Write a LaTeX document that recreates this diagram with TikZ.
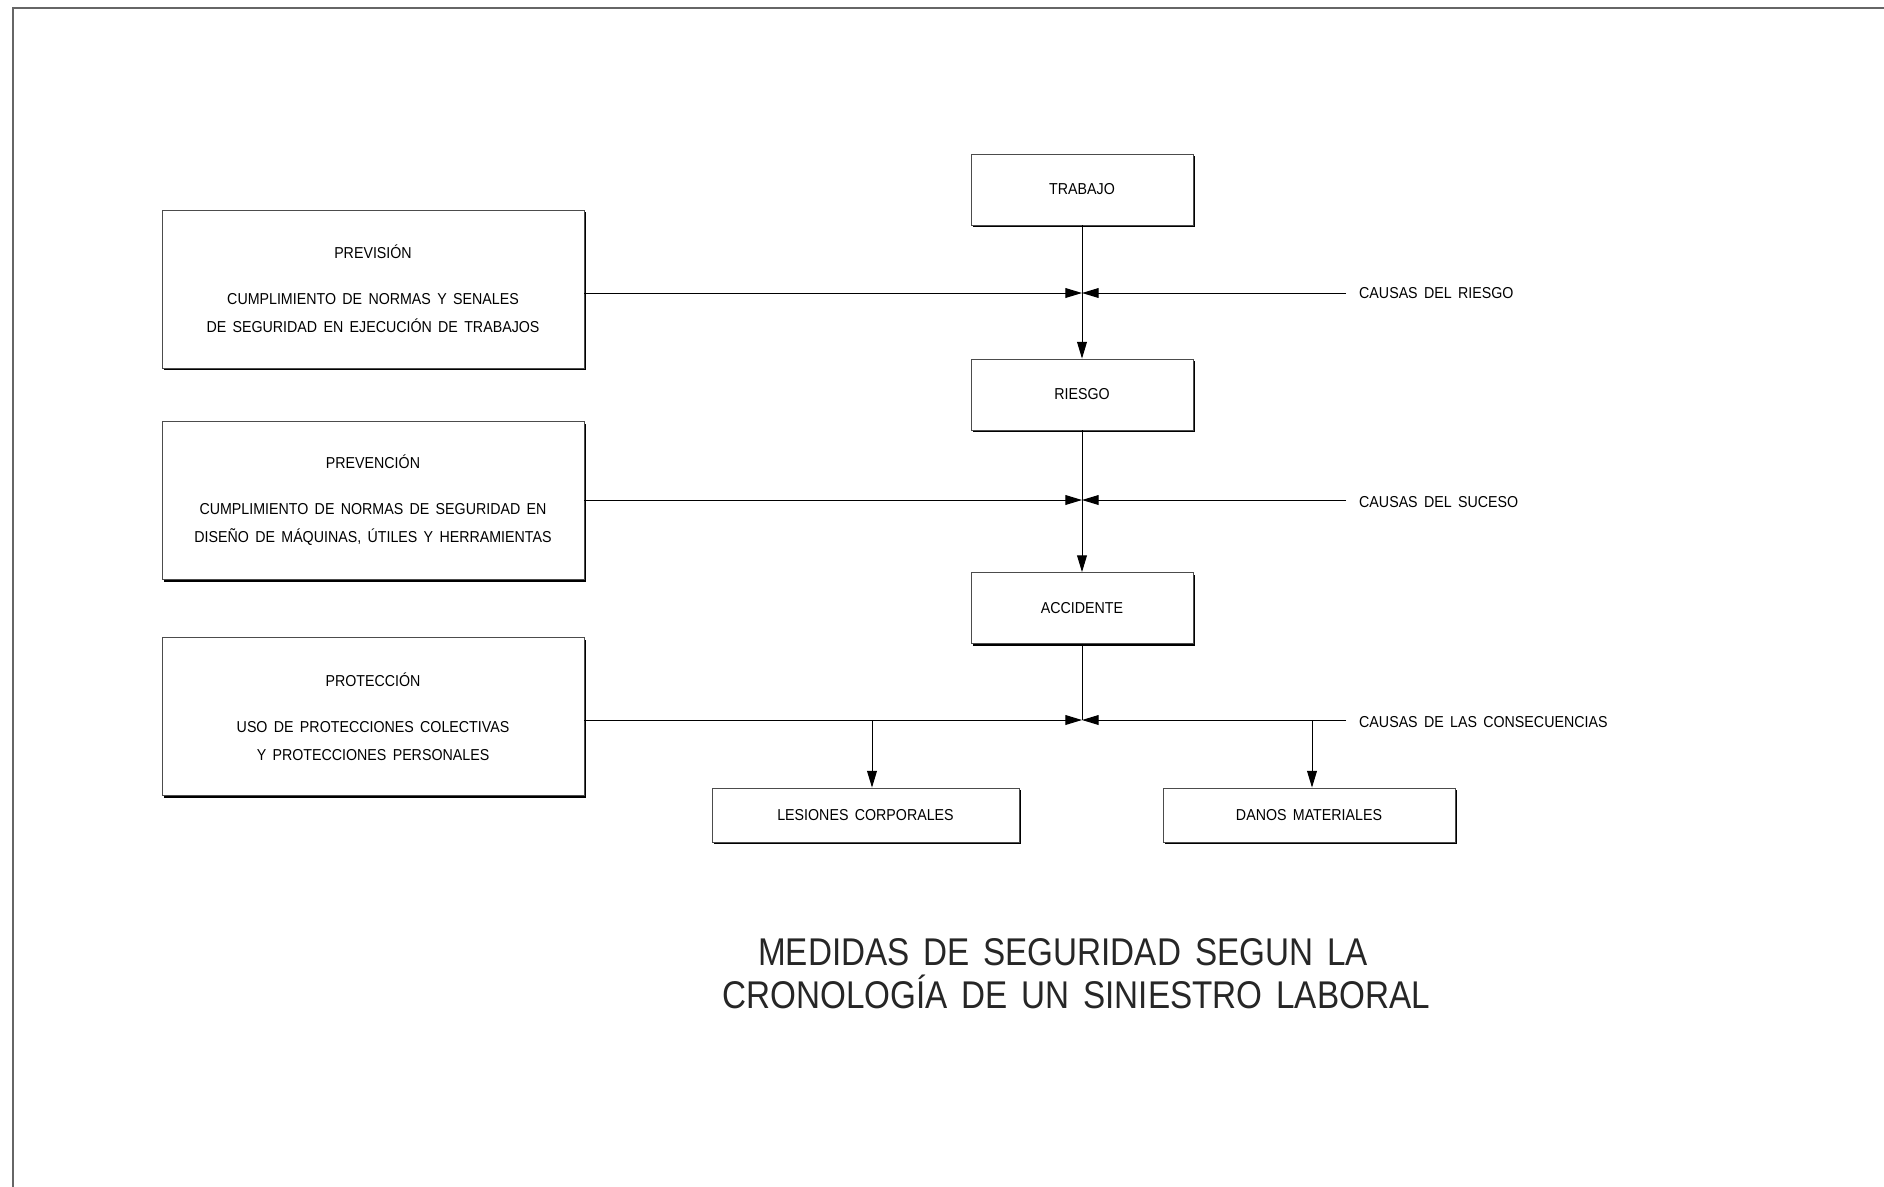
\documentclass[tikz,border=0pt]{standalone}
\usepackage{fontspec}
\setmainfont{Liberation Sans}
\newfontfamily\cadfont[FakeStretch=0.9, WordSpace=1.6]{Liberation Sans}
\newfontfamily\titlefont[FakeStretch=0.86, WordSpace=1.5]{Liberation Sans}
\usetikzlibrary{positioning, calc, arrows.meta, shadows}

\tikzset{
  box/.style={draw=black!70, fill=white, line width=0.5pt, inner sep=0pt,
    drop shadow={shadow xshift=1.3pt, shadow yshift=-1.3pt, opacity=1, fill=black},
    font=\cadfont\fontsize{9}{16}\selectfont, align=center},
  stepbox/.style={box, minimum width=4.44cm, minimum height=1.42cm},
  measurebox/.style={box, minimum width=8.44cm, minimum height=3.16cm},
  resultbox/.style={box, minimum height=1.08cm},
  causa/.style={anchor=west, font=\cadfont\fontsize{9}{11}\selectfont},
  heading/.style={text=black!85, font=\titlefont\fontsize{22}{26}\selectfont},
  link/.style={line width=0.55pt, -{Triangle[length=9.5pt, width=5.6pt]}},
  plain/.style={line width=0.55pt},
  frame/.style={draw=black!60, line width=1.2pt}
}

\begin{document}
\begin{tikzpicture}[x=0.02cm, y=-0.02cm]
  \useasboundingbox (0,0) rectangle (1884,1187);
  \draw[frame] (13,1187) -- (13,8) -- (1884,8);

  % chronology
  \node[stepbox] (trab) at (1082,189.5) {TRABAJO};
  \node[stepbox] (ries) at (1082,394.5) {RIESGO};
  \node[stepbox] (acci) at (1082,608) {ACCIDENTE};

  % measures
  \node[measurebox] (prev) at (373,289) {PREVISI\'ON\\[10pt]CUMPLIMIENTO DE NORMAS Y SENALES\\DE SEGURIDAD EN EJECUCI\'ON DE TRABAJOS};
  \node[measurebox] (pren) at (373,500.5) {PREVENCI\'ON\\[10pt]CUMPLIMIENTO DE NORMAS DE SEGURIDAD EN\\DISE\~NO DE M\'AQUINAS, \'UTILES Y HERRAMIENTAS};
  \node[measurebox] (prot) at (373,716.5) {PROTECCI\'ON\\[10pt]USO DE PROTECCIONES COLECTIVAS\\Y PROTECCIONES PERSONALES};

  % consequences
  \node[resultbox, minimum width=6.14cm] (lesi) at (865.5,815) {LESIONES CORPORALES};
  \node[resultbox, minimum width=5.84cm] (dano) at (1309,815) {DANOS MATERIALES};

  % junctions
  \coordinate (j1) at (1082,293);
  \coordinate (j2) at (1082,500);
  \coordinate (j3) at (1082,720);
  \coordinate (c1) at (1346,293);
  \coordinate (c2) at (1346,500);
  \coordinate (c3) at (1346,720);
  \coordinate (b1) at (872,720);
  \coordinate (b2) at (1312,720);

  \node[causa] (cr) at (1353,293) {CAUSAS DEL RIESGO};
  \node[causa] (cs) at (1353,502) {CAUSAS DEL SUCESO};
  \node[causa] (cc) at (1353,722) {CAUSAS DE LAS CONSECUENCIAS};

  \draw[link] (trab) -- (ries);
  \draw[link] (ries) -- (acci);
  \draw[plain] (acci) -- (j3);

  \draw[link] (prev.east |- j1) -- (j1);
  \draw[link] (c1) -- (j1);
  \draw[link] (pren.east |- j2) -- (j2);
  \draw[link] (c2) -- (j2);
  \draw[link] (prot.east |- j3) -- (j3);
  \draw[link] (c3) -- (j3);

  \draw[link] (b1) -- (b1 |- lesi.north);
  \draw[link] (b2) -- (b2 |- dano.north);

  % title
  \node[heading] (tit1) at (1063,952) {MEDIDAS DE SEGURIDAD SEGUN LA};
  \node[heading] (tit2) at (1076,992) {CRONOLOG\'IA DE UN SINIESTRO LABORAL};
\end{tikzpicture}
\end{document}
